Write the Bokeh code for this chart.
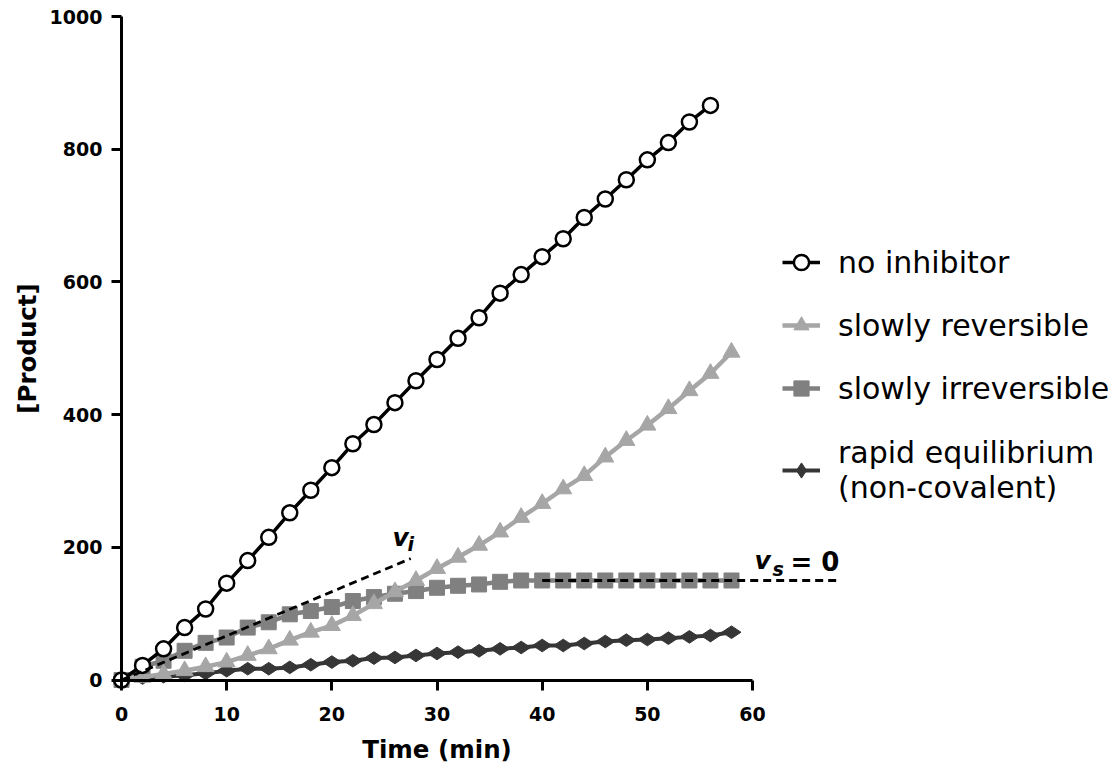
import math
from bokeh.plotting import figure
from bokeh.models import Range1d, LinearAxis, FixedTicker, Legend, LegendItem, Label
from bokeh.embed import file_html
from bokeh.resources import INLINE

# ---------------- data ----------------
time_no_inh = [0, 2, 4, 6, 8, 10, 12, 14, 16, 18, 20, 22, 24, 26, 28, 30, 32, 34, 36, 38,
               40, 42, 44, 46, 48, 50, 52, 54, 56]
no_inhibitor = [0, 22, 47, 79, 107, 146, 180, 215, 252, 286, 320, 356, 385, 418, 451, 483,
                515, 546, 583, 611, 638, 665, 697, 725, 754, 784, 810, 841, 866]

time = [0, 2, 4, 6, 8, 10, 12, 14, 16, 18, 20, 22, 24, 26, 28, 30, 32, 34, 36, 38,
        40, 42, 44, 46, 48, 50, 52, 54, 56, 58]
slowly_reversible = [0, 4, 9, 14, 20, 27, 37, 47, 60, 72, 82, 97, 115, 133, 150, 168, 185,
                     203, 223, 245, 266, 288, 308, 336, 361, 384, 409, 436, 462, 494]
slowly_irreversible = [0, 20, 29, 44, 56, 64, 79, 87, 99, 104, 110, 119, 125, 130, 134, 139,
                       142, 144, 148, 150, 150, 150, 150, 150, 150, 150, 150, 150, 150, 150]
rapid_equilibrium = [0, 3, 5, 7, 10, 14, 17, 17, 19, 23, 27, 29, 33, 34, 37, 40, 42, 44, 47,
                     49, 52, 52, 55, 58, 60, 61, 63, 65, 67, 72]

vi_x = [0, 27.5]
vi_y = [0, 183]
vs_x = [40, 68.2]
vs_y = [150, 150]

x_ticks = [0, 10, 20, 30, 40, 50, 60]
y_ticks = [0, 200, 400, 600, 800, 1000]

# ---------------- layout calibration ----------------
W, H = 1112, 767
X0 = 121              # pixel of x=0 from figure left
PX_X = 10.517         # pixels per minute
Y0 = 679.5            # pixel of y=0 from figure top
PX_Y = 0.6635         # pixels per unit

x_range = Range1d(-X0 / PX_X, (W - X0) / PX_X)
y_range = Range1d(-(H - Y0) / PX_Y, Y0 / PX_Y)

p = figure(width=W, height=H, x_range=x_range, y_range=y_range, title=None,
           output_backend="svg", toolbar_location=None,
           x_axis_location=None, y_axis_location=None, min_border=0)
p.outline_line_color = None
p.background_fill_color = "white"
p.border_fill_color = "white"
p.xgrid.visible = False
p.ygrid.visible = False

FONT = "DejaVu Sans"

def style_axis(ax):
    ax.axis_line_width = 3
    ax.axis_line_color = "black"
    ax.major_tick_line_width = 3
    ax.major_tick_line_color = "black"
    ax.major_tick_out = 10
    ax.major_tick_in = 0
    ax.minor_tick_out = 0
    ax.minor_tick_in = 0
    ax.major_label_text_font = FONT
    ax.major_label_text_font_style = "bold"
    ax.major_label_text_font_size = "19px"
    ax.major_label_text_color = "black"
    ax.axis_label_text_font = FONT
    ax.axis_label_text_font_style = "bold"
    ax.axis_label_text_font_size = "24.5px"
    ax.axis_label_text_color = "black"

xaxis = LinearAxis(fixed_location=0, bounds=(0, 60), ticker=FixedTicker(ticks=x_ticks),
                   axis_label="Time (min)")
style_axis(xaxis)
xaxis.major_label_standoff = 17
xaxis.axis_label_standoff = 10
p.add_layout(xaxis, "below")

yaxis = LinearAxis(fixed_location=0, bounds=(0, 1000), ticker=FixedTicker(ticks=y_ticks),
                   axis_label="[Product]")
style_axis(yaxis)
yaxis.major_label_standoff = 9
yaxis.axis_label_standoff = 5
p.add_layout(yaxis, "left")

# ---------------- series (first dataset drawn on top) ----------------
C_REV = "#a6a6a6"
C_IRR = "#808080"
C_RAP = "#363636"

l4 = p.line(time, rapid_equilibrium, line_color=C_RAP, line_width=4)
s4 = p.scatter(time, rapid_equilibrium, marker="diamond", size=19, angle=math.pi / 2,
               fill_color=C_RAP, line_color=C_RAP)

l3 = p.line(time, slowly_irreversible, line_color=C_IRR, line_width=4.5)
s3 = p.scatter(time, slowly_irreversible, marker="square", size=15,
               fill_color=C_IRR, line_color=C_IRR)

l2 = p.line(time, slowly_reversible, line_color=C_REV, line_width=4.5)
s2 = p.scatter(time, slowly_reversible, marker="triangle", size=17,
               fill_color=C_REV, line_color=C_REV)

l1 = p.line(time_no_inh, no_inhibitor, line_color="black", line_width=3.5)
s1 = p.scatter(time_no_inh, no_inhibitor, marker="circle", size=15,
               fill_color="white", line_color="black", line_width=2.5)

p.line(vi_x, vi_y, line_color="black", line_width=2.8, line_dash="8 5")
p.line(vs_x, vs_y, line_color="black", line_width=2.8, line_dash="8 5")

# ---------------- annotations ----------------
def lab(x, y, text, size, style):
    p.add_layout(Label(x=x, y=y, text=text, text_font=FONT, text_font_style=style,
                       text_font_size=size, text_color="black", text_baseline="alphabetic",
                       text_align="left"))

lab(25.77, 214.8, "v", "25px", "bold italic")
lab(27.2, 205.7, "i", "19px", "bold italic")
lab(60.19, 180.1, "v", "25px", "bold italic")
lab(61.9, 168.0, "s", "19px", "bold italic")
lab(63.6, 177.1, "= 0", "26px", "bold")

# ---------------- legend ----------------
legend_style = dict(glyph_width=38, glyph_height=40, label_height=40,
                    label_standoff=18, spacing=23, padding=0, margin=0,
                    border_line_color=None, background_fill_alpha=0,
                    label_text_font=FONT, label_text_font_size="30px",
                    label_text_color="black")

legend_a = Legend(items=[
    LegendItem(label="no inhibitor", renderers=[l1, s1]),
    LegendItem(label="slowly reversible", renderers=[l2, s2]),
    LegendItem(label="slowly irreversible", renderers=[l3, s3]),
], location=(782, H - 408), **legend_style)
p.add_layout(legend_a)

legend_b = Legend(items=[
    LegendItem(label="rapid equilibrium\n(non-covalent)", renderers=[l4, s4]),
], location=(782, H - 505), **legend_style)
p.add_layout(legend_b)

open("out.html", "w").write(file_html(p, INLINE))
